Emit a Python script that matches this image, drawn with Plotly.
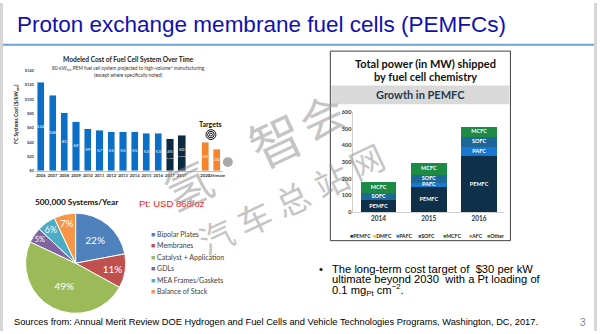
import plotly.graph_objects as go

W, H = 600, 334
def fx(x): return x / W
def fy(y): return 1 - y / H

# ---------------- Data ----------------
# Chart 1: modeled cost of fuel cell system ($/kW)
hist_years = ["2006", "2007", "2008", "2009", "2010", "2011", "2012", "2013", "2014", "2015", "2016"]
hist_costs = [124, 106, 81, 69, 59, 57, 55, 55, 55, 53, 53]
y2017_labels = ["2017", "2017"]
y2017_costs = [45, 50]
y2017_notes = ["high volume", "low volume"]
target_labels = ["2020", "Ultimate"]
target_costs = [40, 30]
cost_ticks = [0, 20, 40, 60, 80, 100, 120, 140]

# Chart 2: total power shipped (MW) by chemistry
ship_years = ["2014", "2015", "2016"]
ship_pemfc = [70, 149, 335]
ship_dmfc = [0, 0, 0]
ship_pafc = [0, 27, 57]
ship_sofc = [45, 49, 59]
ship_mcfc = [67, 69, 59]
ship_afc = [0, 0, 0]
ship_other = [0, 0, 0]
ship_ticks = [0, 100, 200, 300, 400, 500, 600]

# Chart 3: stack cost breakdown (%)
pie_labels = ["Bipolar Plates", "Membranes", "Catalyst + Application", "GDLs",
              "MEA Frames/Gaskets", "Balance of Stack"]
pie_values = [22, 11, 49, 5, 6, 7]

# ---------------- Styles ----------------
BLUE = "#0B6FC6"
DARK = "#0D2B40"
ORANGE = "#F5842A"
C_PEMFC, C_DMFC, C_PAFC, C_SOFC = "#0E3048", "#FFC000", "#1A78D0", "#1D6896"
C_MCFC, C_AFC, C_OTHER = "#1D8A45", "#F58220", "#3E8E2A"
PIE_COLORS = ["#4F81BD", "#C0504D", "#9BBB59", "#8064A2", "#4BACC6", "#F79646"]
CAL = "Lato, Open Sans, sans-serif"
ARIAL = "Liberation Sans, Arial, sans-serif"

fig = go.Figure()

# ---------------- Chart 1 ----------------
n_hist = len(hist_years)
x_hist = list(range(n_hist))
x_2017 = [n_hist + i for i in range(len(y2017_costs))]
x_tgt = [x_2017[-1] + 2 + i for i in range(len(target_costs))]
tick_idx = x_hist + x_2017 + x_tgt
tick_txt = hist_years + y2017_labels + target_labels

fig.add_trace(go.Bar(x=x_hist, y=hist_costs, marker_color=BLUE, width=0.6,
                     xaxis="x", yaxis="y", hoverinfo="skip"))
fig.add_trace(go.Bar(x=x_2017, y=y2017_costs, marker_color=DARK, width=0.65,
                     xaxis="x", yaxis="y", hoverinfo="skip"))
fig.add_trace(go.Bar(x=x_tgt, y=target_costs, marker_color=ORANGE, width=0.6,
                     xaxis="x", yaxis="y", hoverinfo="skip"))
lbl_x = x_hist + x_2017 + x_tgt
lbl_y = [v / 2 for v in hist_costs + y2017_costs + target_costs]
lbl_t = [str(v) for v in hist_costs] + \
        [f"{v}<br><span style='font-size:2.5px'>{n}</span>" for v, n in zip(y2017_costs, y2017_notes)] + \
        [str(v) for v in target_costs]
fig.add_trace(go.Scatter(x=lbl_x, y=lbl_y, text=lbl_t, mode="text", xaxis="x", yaxis="y",
                         textfont=dict(color="white", size=4.5, family=CAL),
                         hoverinfo="skip", cliponaxis=False))

# ---------------- Chart 2 ----------------
series = [("PEMFC", ship_pemfc, C_PEMFC), ("DMFC", ship_dmfc, C_DMFC),
          ("PAFC", ship_pafc, C_PAFC), ("SOFC", ship_sofc, C_SOFC),
          ("MCFC", ship_mcfc, C_MCFC), ("AFC", ship_afc, C_AFC), ("Other", ship_other, C_OTHER)]
base = [0, 0, 0]
tx, ty, tt = [], [], []
for name, vals, col in series:
    fig.add_trace(go.Bar(x=ship_years, y=vals, name=name, marker_color=col, width=0.71,
                         marker_line_width=0, xaxis="x2", yaxis="y2", hoverinfo="skip"))
    for i, v in enumerate(vals):
        if v > 0:
            tx.append(ship_years[i]); ty.append(base[i] + v / 2); tt.append(name)
        base[i] += v
fig.add_trace(go.Scatter(x=tx, y=ty, text=tt, mode="text", xaxis="x2", yaxis="y2",
                         textfont=dict(color="white", size=5.5, family=CAL, weight="bold"),
                         hoverinfo="skip", cliponaxis=False))

# ---------------- Chart 3 (pie) ----------------
fig.add_trace(go.Pie(labels=pie_labels, values=pie_values, sort=False, direction="clockwise",
                     rotation=0, marker=dict(colors=PIE_COLORS, line=dict(color="white", width=1)),
                     texttemplate="%{value}%", textposition="inside",
                     insidetextorientation="horizontal",
                     textfont=dict(color="white", size=10, family=CAL),
                     domain=dict(x=[fx(25), fx(127)], y=[fy(316), fy(214)]),
                     hoverinfo="skip", showlegend=False))

# ---------------- Layout ----------------
ann = []
shapes = []

def text(x, y, s, size, color="#000", family=CAL, bold=False, xanchor="center", angle=0, yanchor="middle"):
    ann.append(dict(x=fx(x), y=fy(y), xref="paper", yref="paper", text=s, showarrow=False,
                    xanchor=xanchor, yanchor=yanchor, textangle=angle,
                    font=dict(size=size, color=color, family=family,
                              weight="bold" if bold else "normal")))

# slide frame
shapes.append(dict(type="rect", xref="paper", yref="paper", x0=0, x1=fx(3), y0=0, y1=1,
                   fillcolor="#D6D6D6", line_width=0, layer="below"))
shapes.append(dict(type="rect", xref="paper", yref="paper", x0=fx(597), x1=1, y0=0, y1=1,
                   fillcolor="#D6D6D6", line_width=0, layer="below"))
shapes.append(dict(type="line", xref="paper", yref="paper", x0=fx(3), x1=fx(597), y0=fy(42.5), y1=fy(42.5),
                   line=dict(color="#6FA0D8", width=2)))
text(15, 22, "Proton exchange membrane fuel cells (PEMFCs)", 22.5, "#1010B0", ARIAL, xanchor="left")

# chart 1 titles
text(129, 57, "Modeled Cost of Fuel Cell System Over Time", 6.6, "#222", CAL, bold=True)
text(129, 66.5, "80-kW<sub>net</sub> PEM fuel cell system projected to high-volume* manufacturing", 4.8, "#333")
text(129, 73.5, "(except where specifically noted)", 4.8, "#333")
text(17, 113, "FC Systems Cost ($/kW<sub>net</sub>)", 5, "#222", bold=True, angle=-90)
text(212, 123, "Targets", 7, "#111", bold=True)
for r in (5, 3.3, 1.5):
    shapes.append(dict(type="circle", xref="paper", yref="paper", x0=fx(212 - r), x1=fx(212 + r),
                       y0=fy(134 + r), y1=fy(134 - r), line=dict(color="#111", width=1)))
shapes.append(dict(type="circle", xref="paper", yref="paper", x0=fx(224), x1=fx(234),
                   y0=fy(167), y1=fy(157), fillcolor="#A8A8A8", line_width=0))

# chart 2 box
shapes.append(dict(type="rect", xref="paper", yref="paper", x0=fx(332), x1=fx(513), y0=fy(242), y1=fy(49),
                   line=dict(color="#404040", width=1), layer="below"))
shapes.append(dict(type="rect", xref="paper", yref="paper", x0=fx(333), x1=fx(512), y0=fy(103), y1=fy(84),
                   fillcolor="#D9D9D9", line_width=0, layer="below"))
text(428, 61.5, "Total power (in MW) shipped", 11, "#111", bold=True)
text(428, 74.5, "by fuel cell chemistry", 11, "#111", bold=True)
text(423, 93.5, "Growth in PEMFC", 11, "#1F3B4D", bold=True)
leg_x = [350, 373, 396, 418, 443, 469, 487]
for (name, vals, col), lx in zip(series, leg_x):
    text(lx, 237, f"<span style='color:{col}'>■</span>{name}", 5.2, "#222", bold=True, xanchor="left")

# pie titles & legend
text(33, 203, "500,000 Systems/Year", 8.3, "#111", bold=True, xanchor="left")
text(138, 204, "Pt: USD 868/oz", 9.5, "#FF1010", ARIAL, xanchor="left")
for i, (lab, col) in enumerate(zip(pie_labels, PIE_COLORS)):
    text(150, 235 + i * 11.7, f"<span style='color:{col}'>■</span> {lab}", 7, "#404040", xanchor="left")

# bullet text
BF = 11.2
text(323, 270.5, "•", BF, "#000", ARIAL)
text(332, 270.5, "The long-term cost target of  $30 per kW", BF, "#000", ARIAL, xanchor="left")
text(332, 281, "ultimate beyond 2030  with a Pt loading of", BF, "#000", ARIAL, xanchor="left")
text(332, 292, "0.1 mg<sub>Pt</sub> cm<sup>−2</sup>.", BF, "#000", ARIAL, xanchor="left")

# footer
text(12, 324.5, "Sources from: Annual Merit Review DOE Hydrogen and Fuel Cells and Vehicle Technologies Programs, Washington, DC, 2017.",
     9.3, "#000", ARIAL, xanchor="left")
text(586, 325, "3", 10, "#7F7F7F", ARIAL)

# watermark
WM = "rgba(140,140,140,0.5)"
CJK = "Noto Sans CJK SC"
for ch, x, y, s in [("氢", 188, 183, 48), ("智", 276, 138, 52), ("会", 323, 114, 44),
                    ("汽", 217, 237, 34), ("车", 255, 218, 34), ("总", 293, 199, 34),
                    ("站", 333, 180, 34), ("网", 368, 160, 34)]:
    text(x, y, ch, s, WM, CJK, angle=-25)

fig.update_layout(
    width=W, height=H, margin=dict(l=0, r=0, t=0, b=0),
    paper_bgcolor="white", plot_bgcolor="rgba(0,0,0,0)", showlegend=False,
    barmode="stack",
    annotations=ann, shapes=shapes,
    xaxis=dict(domain=[fx(35.1), fx(223.9)], range=[-0.5, 15.5], tickvals=tick_idx, ticktext=tick_txt,
               tickfont=dict(size=4.2, color="#333", family=CAL, weight="bold"), tickangle=0,
               showline=True, linecolor="#BFBFBF", linewidth=1, showgrid=False, zeroline=False,
               ticks="", anchor="y", fixedrange=True),
    yaxis=dict(domain=[fy(171), fy(69)], range=[0, 140], tickvals=cost_ticks,
               ticktext=[f"${v}" for v in cost_ticks],
               tickfont=dict(size=4, color="#444", family=CAL, weight="bold"),
               showgrid=False, zeroline=False, showline=False, ticks="", anchor="x", fixedrange=True),
    xaxis2=dict(domain=[fx(355.25), fx(506.75)], tickfont=dict(size=6.5, color="#333", family=CAL, weight="bold"),
                showline=True, linecolor="#D0D0D0", showgrid=False, zeroline=False, ticks="",
                anchor="y2", type="category", fixedrange=True),
    yaxis2=dict(domain=[fy(213), fy(111)], range=[0, 600], tickvals=ship_ticks,
                tickfont=dict(size=5.5, color="#333", family=CAL, weight="bold"),
                showline=True, linecolor="#D0D0D0", showgrid=False, zeroline=False, ticks="",
                anchor="x2", fixedrange=True),
)

fig.write_html("out.html")
